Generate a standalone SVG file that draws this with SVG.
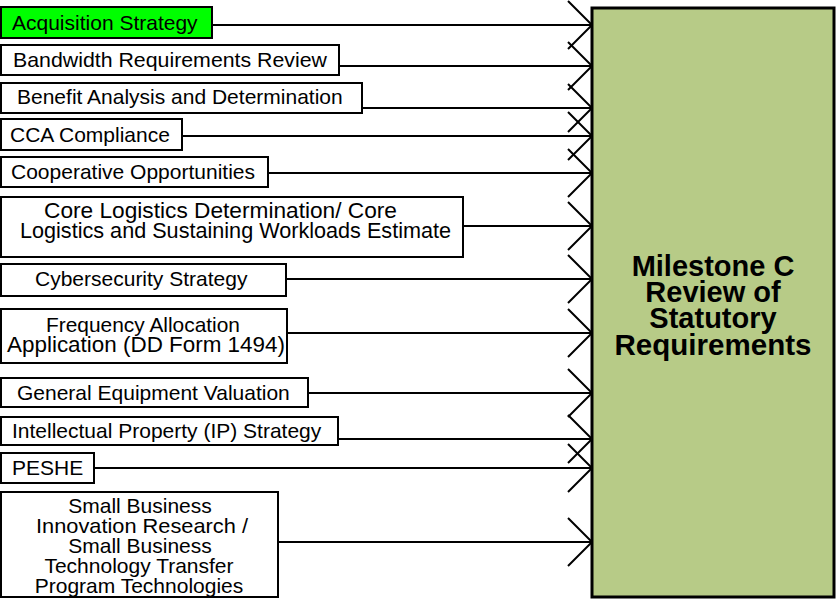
<svg xmlns="http://www.w3.org/2000/svg" width="836" height="601" viewBox="0 0 836 601">
<style>
.box{fill:#fff;stroke:#000;stroke-width:2}
.t{font-family:"Liberation Sans",Arial,sans-serif;font-size:21px;fill:#000}
.m{text-anchor:middle}
.c{fill:none;stroke:#000;stroke-width:2;marker-end:url(#arr)}
.title{font-family:"Liberation Sans",Arial,sans-serif;font-size:29px;font-weight:bold;text-anchor:middle;fill:#000}
</style>
<defs>
<marker id="arr" markerUnits="userSpaceOnUse" markerWidth="26" markerHeight="52" refX="24" refY="25" orient="auto" viewBox="0 -1 26 52" overflow="visible">
<path d="M0,1 L24,25 L0,49" fill="none" stroke="#000" stroke-width="2"/>
</marker>
</defs>
<g id="connectors">
<line class="c" x1="212" y1="25" x2="592" y2="25"/>
<line class="c" x1="339" y1="66" x2="592" y2="66"/>
<line class="c" x1="362" y1="108" x2="592" y2="108"/>
<line class="c" x1="182" y1="136" x2="592" y2="136"/>
<line class="c" x1="268" y1="173" x2="592" y2="173"/>
<line class="c" x1="463" y1="226" x2="592" y2="226"/>
<line class="c" x1="286" y1="279" x2="592" y2="279"/>
<line class="c" x1="287" y1="333" x2="592" y2="333"/>
<line class="c" x1="308" y1="393" x2="592" y2="393"/>
<line class="c" x1="338" y1="439" x2="592" y2="439"/>
<line class="c" x1="94" y1="468" x2="592" y2="468"/>
<line class="c" x1="278" y1="542" x2="592" y2="542"/>
</g>
<g id="milestone">
<rect x="592" y="8" width="242" height="589" fill="#B7CB87" stroke="#000" stroke-width="3"/>
<text class="title" x="713" y="276">Milestone C</text>
<text class="title" x="713" y="302">Review of</text>
<text class="title" x="713" y="328">Statutory</text>
<text class="title" x="713" y="355" textLength="197" lengthAdjust="spacingAndGlyphs">Requirements</text>
</g>
<g id="n1"><rect x="1" y="7" width="211" height="31" fill="#00FF00" stroke="#000" stroke-width="2"/><text class="t" x="12" y="30">Acquisition Strategy</text></g>
<g id="n2"><rect class="box" x="1" y="45" width="338" height="30"/><text class="t" x="13" y="67" textLength="314" lengthAdjust="spacingAndGlyphs">Bandwidth Requirements Review</text></g>
<g id="n3"><rect class="box" x="1" y="83" width="361" height="30"/><text class="t" x="17" y="104">Benefit Analysis and Determination</text></g>
<g id="n4"><rect class="box" x="1" y="119" width="181" height="31"/><text class="t" x="10" y="142">CCA Compliance</text></g>
<g id="n5"><rect class="box" x="1" y="157" width="267" height="30"/><text class="t" x="11" y="179">Cooperative Opportunities</text></g>
<g id="n6"><rect class="box" x="1" y="197" width="462" height="60"/><text class="t" x="44" y="218" style="font-size:22px" textLength="353" lengthAdjust="spacingAndGlyphs">Core Logistics Determination/ Core</text><text class="t" x="20" y="238" style="font-size:22px" textLength="431" lengthAdjust="spacingAndGlyphs">Logistics and Sustaining Workloads Estimate</text></g>
<g id="n7"><rect class="box" x="1" y="264" width="285" height="32"/><text class="t" x="35" y="286">Cybersecurity Strategy</text></g>
<g id="n8"><rect class="box" x="1" y="309" width="286" height="54"/><text class="t" x="46" y="332" textLength="194" lengthAdjust="spacingAndGlyphs">Frequency Allocation</text><text class="t" x="7" y="352" style="font-size:22px" textLength="278" lengthAdjust="spacingAndGlyphs">Application (DD Form 1494)</text></g>
<g id="n9"><rect class="box" x="1" y="378" width="307" height="29"/><text class="t" x="17" y="400">General Equipment Valuation</text></g>
<g id="n10"><rect class="box" x="1" y="417" width="337" height="28"/><text class="t" x="12" y="438">Intellectual Property (IP) Strategy</text></g>
<g id="n11"><rect class="box" x="1" y="453" width="93" height="30"/><text class="t" x="12" y="475">PESHE</text></g>
<g id="n12"><rect class="box" x="1" y="492" width="277" height="105"/>
<text class="t m" x="140" y="513">Small Business</text>
<text class="t" x="36" y="533" textLength="212" lengthAdjust="spacingAndGlyphs">Innovation Research /</text>
<text class="t m" x="140" y="553">Small Business</text>
<text class="t m" x="139" y="573">Technology Transfer</text>
<text class="t m" x="139" y="593">Program Technologies</text></g>
</svg>
